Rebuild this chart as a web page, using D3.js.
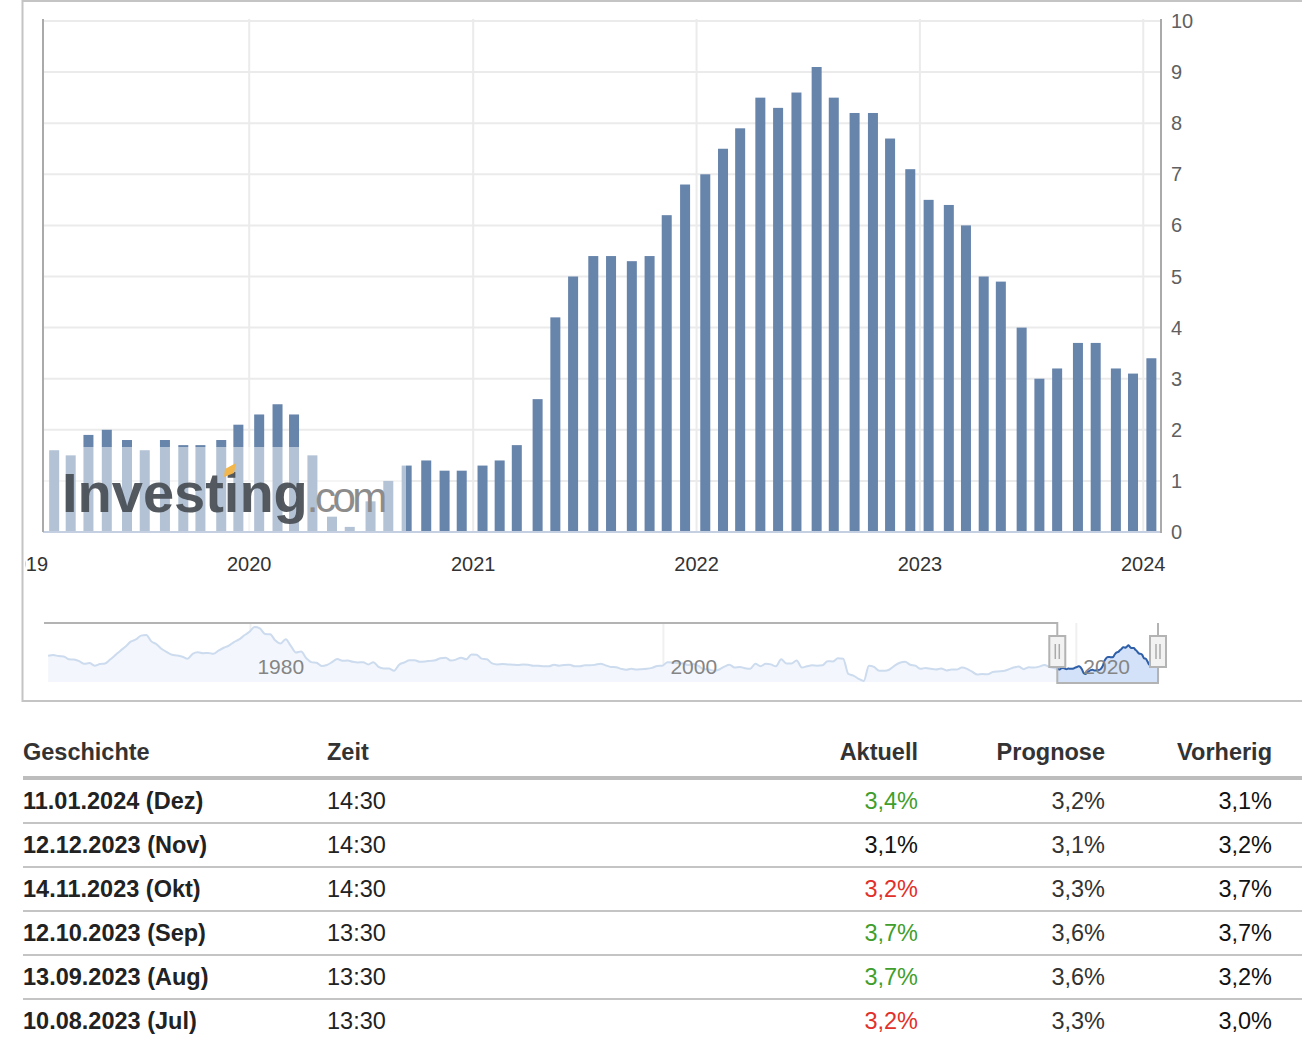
<!DOCTYPE html>
<html>
<head>
<meta charset="utf-8">
<script src="https://cdn.jsdelivr.net/npm/d3@7"></script>
<style>
  body { margin: 0; background: #fff; }
  svg { display: block; font-family: "Liberation Sans", Arial, sans-serif; }
</style>
</head>
<body>
<svg id="chart" width="1302" height="1052"></svg>
<script>
// release dates of the monthly CPI prints (bars sit on the release day)
const releaseDates = [
  "2019-02-13","2019-03-12","2019-04-10","2019-05-10","2019-06-12","2019-07-11","2019-08-13","2019-09-12","2019-10-10","2019-11-13","2019-12-11","2020-01-14",
  "2020-02-13","2020-03-11","2020-04-10","2020-05-12","2020-06-10","2020-07-14","2020-08-12","2020-09-11","2020-10-13","2020-11-12","2020-12-10","2021-01-13",
  "2021-02-10","2021-03-10","2021-04-13","2021-05-12","2021-06-10","2021-07-13","2021-08-11","2021-09-14","2021-10-13","2021-11-10","2021-12-10","2022-01-12",
  "2022-02-10","2022-03-10","2022-04-12","2022-05-11","2022-06-10","2022-07-13","2022-08-10","2022-09-13","2022-10-13","2022-11-10","2022-12-13","2023-01-12",
  "2023-02-14","2023-03-14","2023-04-12","2023-05-10","2023-06-13","2023-07-12","2023-08-10","2023-09-13","2023-10-12","2023-11-14","2023-12-12","2024-01-11"
];
const cpiValues = [
  1.6,1.5,1.9,2.0,1.8,1.6,1.8,1.7,1.7,1.8,2.1,2.3,
  2.5,2.3,1.5,0.3,0.1,0.6,1.0,1.3,1.4,1.2,1.2,1.3,
  1.4,1.7,2.6,4.2,5.0,5.4,5.4,5.3,5.4,6.2,6.8,7.0,
  7.5,7.9,8.5,8.3,8.6,9.1,8.5,8.2,8.2,7.7,7.1,6.5,
  6.4,6.0,5.0,4.9,4.0,3.0,3.2,3.7,3.7,3.2,3.1,3.4
];
const yearLabels = ["2019","2020","2021","2022","2023","2024"];
const yTicks = [0,1,2,3,4,5,6,7,8,9,10];

// navigator history (quarter-end months: Mar, Jun, Sep, Dec)
const navYears = [1970,1971,1972,1973,1974,1975,1976,1977,1978,1979,1980,1981,1982,1983,1984,1985,1986,1987,1988,1989,
  1990,1991,1992,1993,1994,1995,1996,1997,1998,1999,2000,2001,2002,2003,2004,2005,2006,2007,2008,2009,
  2010,2011,2012,2013,2014,2015,2016,2017,2018];
const navQuarterly = [
  [5.8,6.0,5.7,5.6],[4.7,4.6,4.1,3.3],[3.5,2.7,3.2,3.4],[4.6,6.0,7.4,8.7],[10.2,10.9,12.1,12.3],
  [10.3,9.4,7.9,6.9],[6.1,5.9,5.5,4.9],[6.4,6.9,6.6,6.7],[6.4,7.4,8.3,9.0],[10.1,10.9,12.2,13.3],
  [14.8,14.4,12.6,12.5],[10.6,9.6,11.0,8.9],[6.8,7.1,5.0,3.8],[3.6,2.6,2.9,3.8],[4.8,4.2,4.3,3.9],
  [3.7,3.8,3.1,3.8],[2.3,1.8,1.8,1.1],[3.0,3.7,4.4,4.4],[3.9,4.0,4.2,4.4],[5.0,5.2,4.3,4.6],
  [5.2,4.7,6.2,6.1],[4.9,4.7,3.4,3.1],[3.2,3.1,3.0,2.9],[3.1,3.0,2.7,2.7],[2.5,2.5,3.0,2.7],
  [2.9,3.0,2.5,2.5],[2.8,2.8,3.0,3.3],[2.8,2.3,2.2,1.7],[1.4,1.7,1.5,1.6],[1.7,2.0,2.6,2.7],
  [3.8,3.7,3.5,3.4],[2.9,3.2,2.6,1.6],[1.5,1.1,1.5,2.4],[3.0,2.1,2.3,1.9],[1.7,3.3,2.5,3.3],
  [3.1,2.5,4.7,3.4],[3.4,4.3,2.1,2.5],[2.8,2.7,2.8,4.1],[4.0,5.0,4.9,0.1],[-0.4,-1.4,-2.1,2.7],
  [2.3,1.1,1.1,1.5],[2.7,3.6,3.9,3.0],[2.7,1.7,2.0,1.7],[1.5,1.8,1.2,1.5],[1.5,2.1,1.7,0.8],
  [-0.1,0.1,0.0,0.7],[0.9,1.0,1.5,2.1],[2.4,1.6,2.2,2.1],[2.4,2.9,2.3,1.9]
];
const navLabels = ["1980","2000","2020"];

// history table
const histDates = ["11.01.2024 (Dez)","12.12.2023 (Nov)","14.11.2023 (Okt)","12.10.2023 (Sep)","13.09.2023 (Aug)","10.08.2023 (Jul)"];
const histTimes = ["14:30","14:30","14:30","13:30","13:30","13:30"];
const histActual = [3.4,3.1,3.2,3.7,3.7,3.2];
const histForecast = [3.2,3.1,3.3,3.6,3.6,3.3];
const histPrevious = [3.1,3.2,3.7,3.7,3.2,3.0];

const parse = d3.timeParse("%Y-%m-%d");
const svg = d3.select("#chart");

svg.append("defs").append("clipPath").attr("id", "box")
  .append("rect").attr("x", 25).attr("y", 0).attr("width", 1290).attr("height", 701);

// outer frame
svg.append("rect").attr("x", 22.5).attr("y", 1).attr("width", 1290).attr("height", 700)
  .attr("fill", "none").attr("stroke", "#c4c4c4").attr("stroke-width", 2);

const plot = { left: 43, right: 1161, top: 21, bottom: 532 };

const x = d3.scaleTime()
  .domain([new Date(2019, 0, 29), new Date(2024, 0, 30)])
  .range([plot.left, plot.right]);
const y = d3.scaleLinear().domain([0, 10]).range([plot.bottom, plot.top]);

const g = svg.append("g").attr("clip-path", "url(#box)");

// grid
g.selectAll(".hgrid").data(yTicks).enter().append("line")
  .attr("x1", plot.left).attr("x2", plot.right)
  .attr("y1", d => y(d)).attr("y2", d => y(d))
  .attr("stroke", "#ebebeb").attr("stroke-width", 2);
g.selectAll(".vgrid").data(yearLabels.slice(1)).enter().append("line")
  .attr("x1", d => x(new Date(+d, 0, 1))).attr("x2", d => x(new Date(+d, 0, 1)))
  .attr("y1", plot.top - 2).attr("y2", plot.bottom)
  .attr("stroke", "#ebebeb").attr("stroke-width", 2);

// bars
const bars = releaseDates.map((d, i) => ({ date: parse(d), value: cpiValues[i] }));
g.selectAll(".bar").data(bars).enter().append("rect")
  .attr("x", d => x(d.date) - 3)
  .attr("y", d => y(d.value))
  .attr("width", 10)
  .attr("height", d => y(0) - y(d.value))
  .attr("fill", "#6784ab");

// watermark
g.append("rect").attr("x", plot.left).attr("y", 447).attr("width", 363).attr("height", plot.bottom - 447)
  .attr("fill", "#fff").attr("opacity", 0.5);
const wm = g.append("text").attr("x", 62).attr("y", 512);
wm.append("tspan").text("Investing").attr("font-size", 56).attr("font-weight", "bold")
  .attr("fill", "#4b5056").attr("fill-opacity", 0.95);
wm.append("tspan").text(".com").attr("font-size", 42).attr("letter-spacing", -3.5)
  .attr("dx", -1).attr("fill", "#8c8c8c");
g.append("path").attr("d", "M225,469 L236,463 L234,473 L224,477 Z").attr("fill", "#f2b64a");

// axes lines
g.append("line").attr("x1", plot.left).attr("x2", plot.right).attr("y1", plot.bottom).attr("y2", plot.bottom)
  .attr("stroke", "#c4d0e2").attr("stroke-width", 2);
g.append("line").attr("x1", plot.left).attr("x2", plot.left).attr("y1", plot.top - 2).attr("y2", plot.bottom)
  .attr("stroke", "#aaa").attr("stroke-width", 2);
g.append("line").attr("x1", plot.right).attr("x2", plot.right).attr("y1", plot.top - 2).attr("y2", plot.bottom + 1)
  .attr("stroke", "#aaa").attr("stroke-width", 2);

// y labels (right side)
g.selectAll(".ylab").data(yTicks).enter().append("text")
  .attr("x", plot.right + 10).attr("y", d => y(d) + 7)
  .attr("font-size", 20).attr("fill", "#606060")
  .text(d => d);

// x labels
g.selectAll(".xlab").data(yearLabels).enter().append("text")
  .attr("x", d => x(new Date(+d, 0, 1))).attr("y", 571)
  .attr("text-anchor", "middle").attr("font-size", 20).attr("fill", "#333")
  .text(d => d);

// navigator
const nav = { left: 44, right: 1160, top: 623, bottom: 682 };
const nx = d3.scaleTime().domain([new Date(1970, 0, 1), new Date(2024, 0, 20)]).range([nav.left, nav.right]);
const ny = d3.scaleLinear().domain([-2.1, 14.8]).range([nav.bottom - 1, nav.top + 4]);

const navData = [];
navYears.forEach((yr, i) => {
  navQuarterly[i].forEach((v, q) => navData.push({ date: new Date(yr, q * 3 + 2, 15), value: v }));
});
bars.forEach(d => navData.push(d));

const selStart = nx(x.domain()[0]);
const selEnd = 1158;

const ng = svg.append("g");
ng.selectAll(".ngrid").data(navLabels).enter().append("line")
  .attr("x1", d => nx(new Date(+d, 0, 1))).attr("x2", d => nx(new Date(+d, 0, 1)))
  .attr("y1", nav.top).attr("y2", nav.bottom)
  .attr("stroke", "#f0f0f0").attr("stroke-width", 2);

const area = d3.area().x(d => nx(d.date)).y0(nav.bottom).y1(d => ny(d.value)).curve(d3.curveMonotoneX);
const line = d3.line().x(d => nx(d.date)).y(d => ny(d.value)).curve(d3.curveMonotoneX);

ng.append("path").datum(navData).attr("d", area).attr("fill", "#f3f7fd");
ng.append("path").datum(navData).attr("d", line).attr("fill", "none").attr("stroke", "#ccdbee").attr("stroke-width", 2);

ng.append("clipPath").attr("id", "sel").append("rect")
  .attr("x", selStart).attr("y", nav.top).attr("width", selEnd - selStart).attr("height", 80);
ng.append("path").datum(navData).attr("d", area).attr("fill", "#d3e2f8").attr("clip-path", "url(#sel)");
ng.append("path").datum(navData).attr("d", line).attr("fill", "none").attr("stroke", "#2f5fa8")
  .attr("stroke-width", 2).attr("clip-path", "url(#sel)");

ng.selectAll(".nlab").data(navLabels).enter().append("text")
  .attr("x", d => nx(new Date(+d, 0, 1)) + 7).attr("y", 674)
  .attr("font-size", 21).attr("fill", "#858585")
  .text(d => d);

// outline around selection
ng.append("path")
  .attr("d", `M${nav.left},${nav.top} H${selStart} V${nav.bottom + 1} H${selEnd} V${nav.top}`)
  .attr("fill", "none").attr("stroke", "#b3b3b3").attr("stroke-width", 2);

// handles
[selStart, selEnd].forEach(hx => {
  const h = ng.append("g").attr("transform", `translate(${hx},636)`);
  h.append("rect").attr("x", -8).attr("y", 0).attr("width", 16).attr("height", 31)
    .attr("fill", "#f2f2f2").attr("stroke", "#b3b3b3").attr("stroke-width", 2);
  h.append("line").attr("x1", -2).attr("x2", -2).attr("y1", 8).attr("y2", 23).attr("stroke", "#aaa").attr("stroke-width", 1.5);
  h.append("line").attr("x1", 2).attr("x2", 2).attr("y1", 8).attr("y2", 23).attr("stroke", "#aaa").attr("stroke-width", 1.5);
});

// table
const fmt = v => d3.format(".1f")(v).replace(".", ",") + "%";
const cols = { date: 23, time: 327, actual: 918, forecast: 1105, previous: 1272 };
const tbl = svg.append("g").attr("font-size", 23.5);

const head = tbl.append("g").attr("font-weight", "bold").attr("fill", "#333");
head.append("text").attr("x", cols.date).attr("y", 760).text("Geschichte");
head.append("text").attr("x", cols.time).attr("y", 760).text("Zeit");
head.append("text").attr("x", cols.actual).attr("y", 760).attr("text-anchor", "end").text("Aktuell");
head.append("text").attr("x", cols.forecast).attr("y", 760).attr("text-anchor", "end").text("Prognose");
head.append("text").attr("x", cols.previous).attr("y", 760).attr("text-anchor", "end").text("Vorherig");
tbl.append("line").attr("x1", 23).attr("x2", 1302).attr("y1", 778).attr("y2", 778)
  .attr("stroke", "#bdbdbd").attr("stroke-width", 4);

const rowY = d3.scaleLinear().domain([0, 1]).range([801, 845]);
const rows = tbl.selectAll(".row").data(histDates).enter().append("g")
  .attr("transform", (d, i) => `translate(0,${rowY(i)})`);
rows.filter((d, i) => i < histDates.length - 1).append("line")
  .attr("x1", 23).attr("x2", 1302).attr("y1", 22).attr("y2", 22)
  .attr("stroke", "#c4c4c4").attr("stroke-width", 2);
rows.append("text").attr("x", cols.date).attr("y", 8).attr("font-weight", "bold").attr("fill", "#222").text(d => d);
rows.append("text").attr("x", cols.time).attr("y", 8).attr("fill", "#222").text((d, i) => histTimes[i]);
rows.append("text").attr("x", cols.actual).attr("y", 8).attr("text-anchor", "end")
  .attr("fill", (d, i) => histActual[i] > histForecast[i] ? "#3f9e2c" : histActual[i] < histForecast[i] ? "#e2302a" : "#111")
  .text((d, i) => fmt(histActual[i]));
rows.append("text").attr("x", cols.forecast).attr("y", 8).attr("text-anchor", "end").attr("fill", "#333")
  .text((d, i) => fmt(histForecast[i]));
rows.append("text").attr("x", cols.previous).attr("y", 8).attr("text-anchor", "end").attr("fill", "#111")
  .text((d, i) => fmt(histPrevious[i]));
</script>
</body>
</html>
